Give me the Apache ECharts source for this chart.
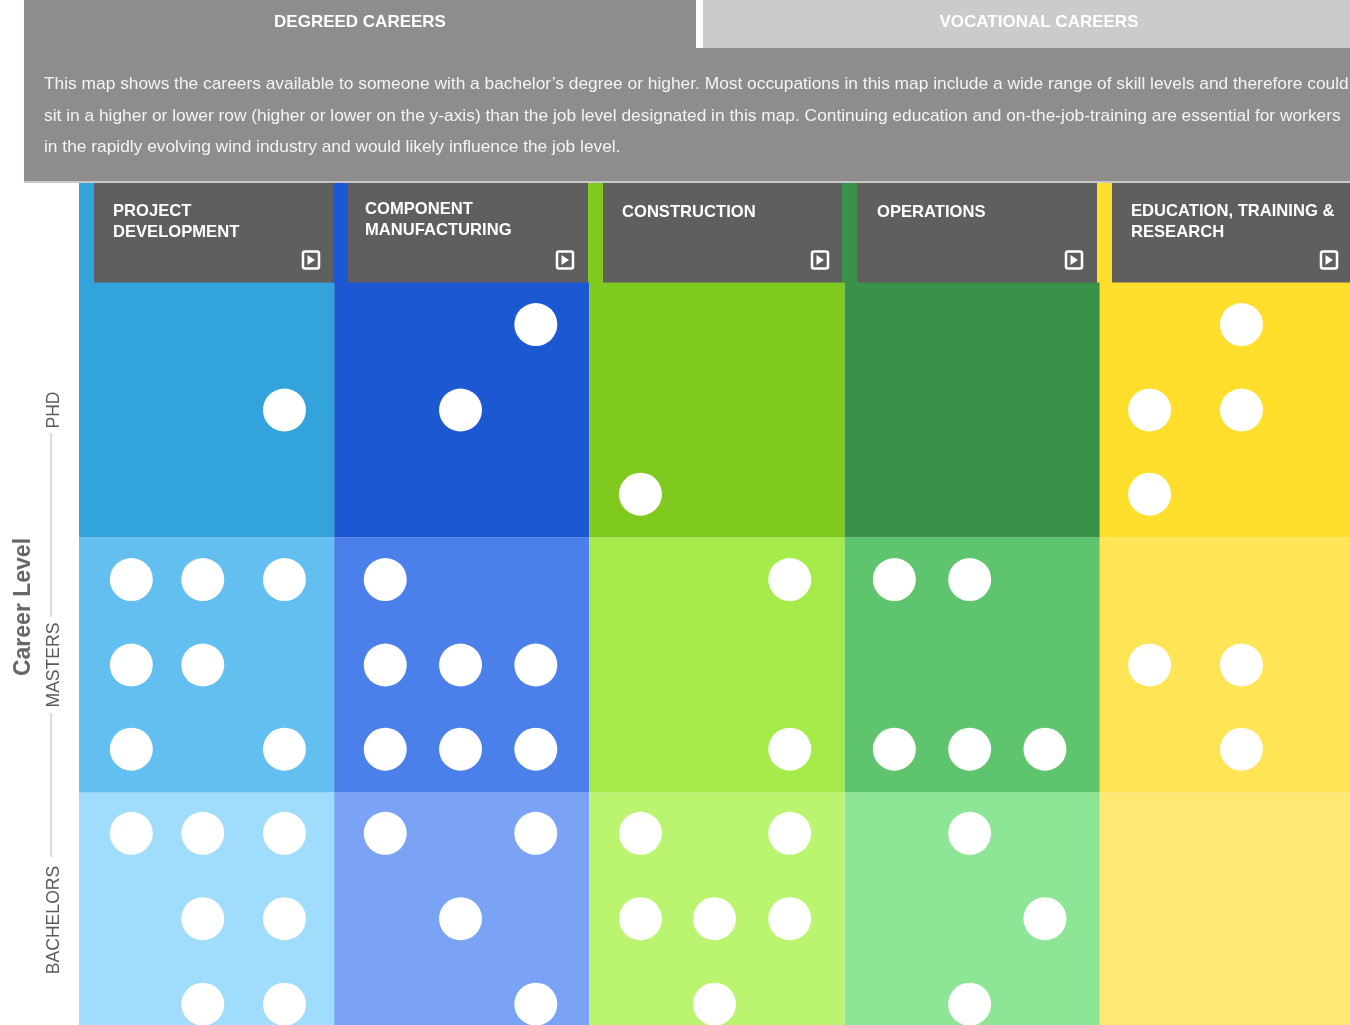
<!DOCTYPE html>
<html>
<head>
<meta charset="utf-8">
<title>Career Map</title>
<script src="https://cdn.jsdelivr.net/npm/echarts@6/dist/echarts.min.js"></script>
<style>
    html, body { margin: 0; padding: 0; background: #fff; }
    #careerMap { width: 1350px; height: 1025px; }
</style>
</head>
<body>
<div id="careerMap"></div>
<script>
var tabNames = ['DEGREED CAREERS', 'VOCATIONAL CAREERS'];
var introLines = [
    'This map shows the careers available to someone with a bachelor\u2019s degree or higher. Most occupations in this map include a wide range of skill levels and therefore could',
    'sit in a higher or lower row (higher or lower on the y-axis) than the job level designated in this map. Continuing education and on-the-job-training are essential for workers',
    'in the rapidly evolving wind industry and would likely influence the job level.'
];
var sectorNames = ['PROJECT\nDEVELOPMENT', 'COMPONENT\nMANUFACTURING', 'CONSTRUCTION', 'OPERATIONS', 'EDUCATION, TRAINING &\nRESEARCH'];
var levelNames = ['BACHELORS', 'MASTERS', 'PHD'];

// x = sector index + place inside the sector, y = level index + place inside the level
var projectDots = [[0.805, 2.5], [0.205, 1.835], [0.485, 1.835], [0.805, 1.835], [0.205, 1.5], [0.485, 1.5], [0.205, 1.17], [0.805, 1.17], [0.205, 0.84], [0.485, 0.84], [0.805, 0.84], [0.485, 0.505], [0.805, 0.505], [0.485, 0.17], [0.805, 0.17]];
var componentDots = [[1.79, 2.835], [1.495, 2.5], [1.2, 1.835], [1.2, 1.5], [1.495, 1.5], [1.79, 1.5], [1.2, 1.17], [1.495, 1.17], [1.79, 1.17], [1.2, 0.84], [1.79, 0.84], [1.495, 0.505], [1.79, 0.17]];
var constructionDots = [[2.2, 2.17], [2.785, 1.835], [2.785, 1.17], [2.2, 0.84], [2.785, 0.84], [2.2, 0.505], [2.49, 0.505], [2.785, 0.505], [2.49, 0.17]];
var operationsDots = [[3.195, 1.835], [3.49, 1.835], [3.195, 1.17], [3.49, 1.17], [3.785, 1.17], [3.49, 0.84], [3.785, 0.505], [3.49, 0.17]];
var educationDots = [[4.555, 2.835], [4.195, 2.5], [4.555, 2.5], [4.195, 2.17], [4.195, 1.5], [4.555, 1.5], [4.555, 1.17]];

// one row per level, bachelors first
var cellColors = [
    ['#a0dcfb', '#7aa3f5', '#bbf56f', '#8de596', '#ffe873'],
    ['#63bfef', '#4b7fe9', '#a5ec4a', '#5fc46e', '#ffe455'],
    ['#33a3dc', '#1c58d2', '#80c91e', '#3a9149', '#ffdf2b']
];

var cells = [];
for (var l = 0; l < levelNames.length; l++) {
    for (var s = 0; s < sectorNames.length; s++) {
        cells.push([s, l]);
    }
}

var graphics = [];

// top panel
graphics.push({ type: 'rect', shape: { x: 24, y: 0, width: 1326, height: 181 }, style: { fill: '#8e8c8c' } });
graphics.push({ type: 'rect', shape: { x: 24, y: 181, width: 1326, height: 2 }, style: { fill: '#c8c8c8' } });
graphics.push({ type: 'rect', shape: { x: 696, y: 0, width: 7, height: 48 }, style: { fill: '#ffffff' } });
graphics.push({ type: 'rect', shape: { x: 703, y: 0, width: 647, height: 48 }, style: { fill: '#cbcbcb' } });
graphics.push({ type: 'text', x: 360, y: 22, style: { text: tabNames[0], fill: '#fff', font: 'bold 17px "Liberation Sans"', textAlign: 'center', textVerticalAlign: 'middle' } });
graphics.push({ type: 'text', x: 1039, y: 22, style: { text: tabNames[1], fill: '#fff', font: 'bold 17px "Liberation Sans"', textAlign: 'center', textVerticalAlign: 'middle' } });

var introY = [84, 116, 147];
for (var i = 0; i < introLines.length; i++) {
    graphics.push({ type: 'text', x: 44, y: introY[i], style: { text: introLines[i], fill: '#f4f4f4', font: '17.35px "Liberation Sans"', textAlign: 'left', textVerticalAlign: 'middle' } });
}

// sector headers
var stripeX = [79, 333, 588, 842, 1097];
var headX = [94, 348, 603, 857, 1112];
var headW = [239, 240, 239, 240, 238];
var labelX = [113, 365, 622, 877, 1131];
var labelY = [222, 220, 212, 212, 222];
var iconX = [311, 565, 820, 1074, 1329];
for (var h = 0; h < sectorNames.length; h++) {
    graphics.push({ type: 'rect', shape: { x: stripeX[h], y: 183, width: 16, height: 100 }, style: { fill: cellColors[2][h] } });
    graphics.push({ type: 'rect', shape: { x: headX[h], y: 183, width: headW[h], height: 100 }, style: { fill: '#5f5f5f' } });
    graphics.push({ type: 'text', x: labelX[h], y: labelY[h], style: { text: sectorNames[h], fill: '#fff', font: 'bold 16.6px "Liberation Sans"', lineHeight: 21, textAlign: 'left', textVerticalAlign: 'middle' } });
    graphics.push({ type: 'rect', shape: { x: iconX[h] - 8, y: 251.5, width: 16, height: 17, r: 2 }, style: { fill: 'none', stroke: '#fff', lineWidth: 2.5 } });
    graphics.push({ type: 'polygon', shape: { points: [[iconX[h] - 3.5, 255], [iconX[h] + 4, 260], [iconX[h] - 3.5, 265]] }, style: { fill: '#fff' } });
}

// left side labels
graphics.push({ type: 'text', x: 24, y: 607, rotation: Math.PI / 2, style: { text: 'Career Level', fill: '#666', font: 'bold 23px "Liberation Sans"', textAlign: 'center', textVerticalAlign: 'middle' } });
graphics.push({ type: 'line', shape: { x1: 51, y1: 433, x2: 51, y2: 617 }, style: { stroke: '#cfcfcf', lineWidth: 1.5 } });
graphics.push({ type: 'line', shape: { x1: 51, y1: 713, x2: 51, y2: 857 }, style: { stroke: '#cfcfcf', lineWidth: 1.5 } });
var levelY = [920, 665, 410];
for (var t = 0; t < levelNames.length; t++) {
    graphics.push({ type: 'text', x: 54, y: levelY[t], rotation: Math.PI / 2, style: { text: levelNames[t], fill: '#5a5a5a', font: '17.6px "Liberation Sans"', textAlign: 'center', textVerticalAlign: 'middle' } });
}

function dotSeries(name, dots) {
    return {
        name: name,
        type: 'scatter',
        data: dots,
        symbol: 'circle',
        symbolSize: 43,
        itemStyle: { color: '#fff', opacity: 1 },
        silent: true,
        z: 3
    };
}

var chart = echarts.init(document.getElementById('careerMap'));
var option = {
    animation: false,
    // the last row and column run past the edge of the page in the reference
    grid: { left: 79, top: 282.5, width: 1276, height: 765, outerBoundsMode: 'none' },
    xAxis: { type: 'value', min: 0, max: 5, show: false },
    yAxis: { type: 'value', min: 0, max: 3, show: false },
    graphic: graphics,
    series: [
        {
            type: 'custom',
            silent: true,
            clip: false,
            z: 1,
            data: cells,
            renderItem: function (params, api) {
                var s = api.value(0);
                var l = api.value(1);
                var from = api.coord([s, l + 1]);
                var to = api.coord([s + 1, l]);
                return {
                    type: 'rect',
                    shape: { x: from[0], y: from[1], width: to[0] - from[0], height: to[1] - from[1] },
                    style: { fill: cellColors[l][s] }
                };
            }
        },
        dotSeries('Project Development', projectDots),
        dotSeries('Component Manufacturing', componentDots),
        dotSeries('Construction', constructionDots),
        dotSeries('Operations', operationsDots),
        dotSeries('Education, Training & Research', educationDots)
    ]
};
chart.setOption(option);
</script>
</body>
</html>
